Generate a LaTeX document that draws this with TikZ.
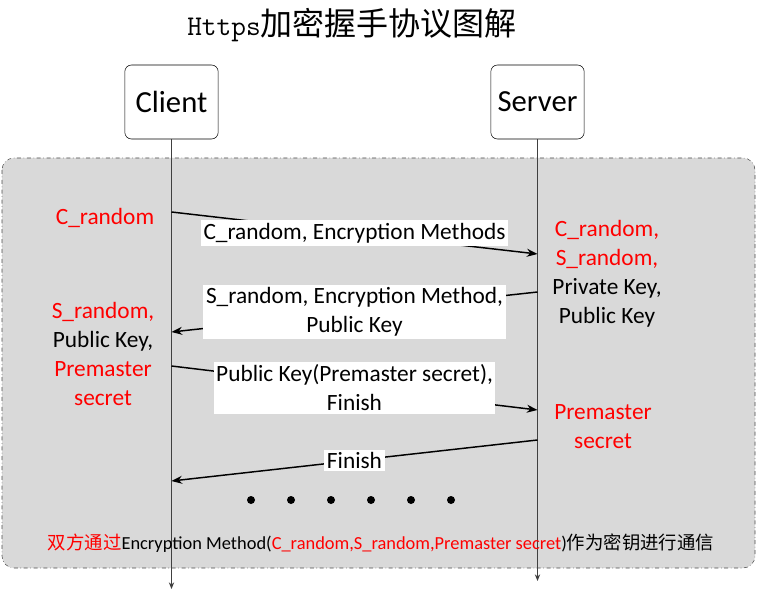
\documentclass[tikz,border=0pt]{standalone}
\usepackage{fontspec}
\setmainfont{Carlito}
\newfontfamily\cjk{Noto Sans CJK SC}
\usepackage{xcolor}
\usetikzlibrary{arrows.meta}

\definecolor{keyred}{RGB}{255,0,0}
\definecolor{panelgray}{RGB}{217,217,217}

\tikzset{
	party/.style={draw, rounded corners=5pt, minimum width=70pt, minimum height=55.5pt, font=\fontsize{23}{27}\selectfont},
	msg/.style={fill=white, inner sep=2pt, align=center, font=\fontsize{17.5}{21.75}\selectfont},
	keynote/.style={align=center, font=\fontsize{17.5}{21.75}\selectfont},
	life/.style={draw=black!75, line width=0.7pt, -{Stealth[length=5pt,width=4pt]}},
}

\begin{document}
\begin{tikzpicture}[x=0.75pt, y=-0.75pt]
		\useasboundingbox (0,0) rectangle (757,599);
		\node (title) at (352,25) {{\fontsize{21.4}{24}\selectfont\ttfamily Https}{\fontsize{24}{28}\selectfont\cjk 加密握手协议图解}};
		%
		\fill[panelgray, rounded corners=9pt] (2,158) rectangle (755,568);
		\draw[black!70, dash dot, rounded corners=9pt] (2,158) rectangle (755,568);
		%
		\node[party] (client) at (171.5,102) {Client};
		\node[party] (server) at (537.5,102) {Server};
		\draw[life] (client.south) -- (client.south |- 0,589);
		\draw[life] (server.south) -- (server.south |- 0,581);
		%
		\coordinate (c1) at (client.south |- 0,212);
		\coordinate (s1) at (server.south |- 0,254);
		\coordinate (s2) at (server.south |- 0,292);
		\coordinate (c2) at (client.south |- 0,332);
		\coordinate (c3) at (client.south |- 0,366);
		\coordinate (s3) at (server.south |- 0,410);
		\coordinate (s4) at (server.south |- 0,440);
		\coordinate (c4) at (client.south |- 0,481);
		%
		\path[-{Stealth[length=8pt,width=6pt]}, line width=1.1pt]
		(c1) edge node[msg]{C\_random, Encryption Methods} (s1)
		(s2) edge node[msg]{S\_random, Encryption Method,\\Public Key} (c2)
		(c3) edge node[msg]{Public Key(Premaster secret),\\Finish} (s3)
		(s4) edge node[msg]{Finish} (c4);
		%
		\node[keynote, text=keyred] (crand) at (105,218) {C\_random};
		\node[keynote] (ckeys) at (103,353.5) {\textcolor{keyred}{S\_random,}\\Public Key,\\\textcolor{keyred}{Premaster}\\\textcolor{keyred}{secret}};
		\node[keynote] (skeys) at (607,274) {\textcolor{keyred}{C\_random,}\\\textcolor{keyred}{S\_random,}\\Private Key,\\Public Key};
		\node[keynote, text=keyred] (spre) at (603,426.5) {Premaster\\secret};
		%
		\foreach \x in {251,291,...,451}
			\fill (\x,500) circle[radius=3pt];
		%
		\node[font=\fontsize{13.8}{16}\selectfont] (summary) at (381,543) {{\color{keyred}\cjk 双方通过}Encryption Method({\color{keyred}C\_random,S\_random,Premaster secret}){\cjk 作为密钥进行通信}};
\end{tikzpicture}
\end{document}
